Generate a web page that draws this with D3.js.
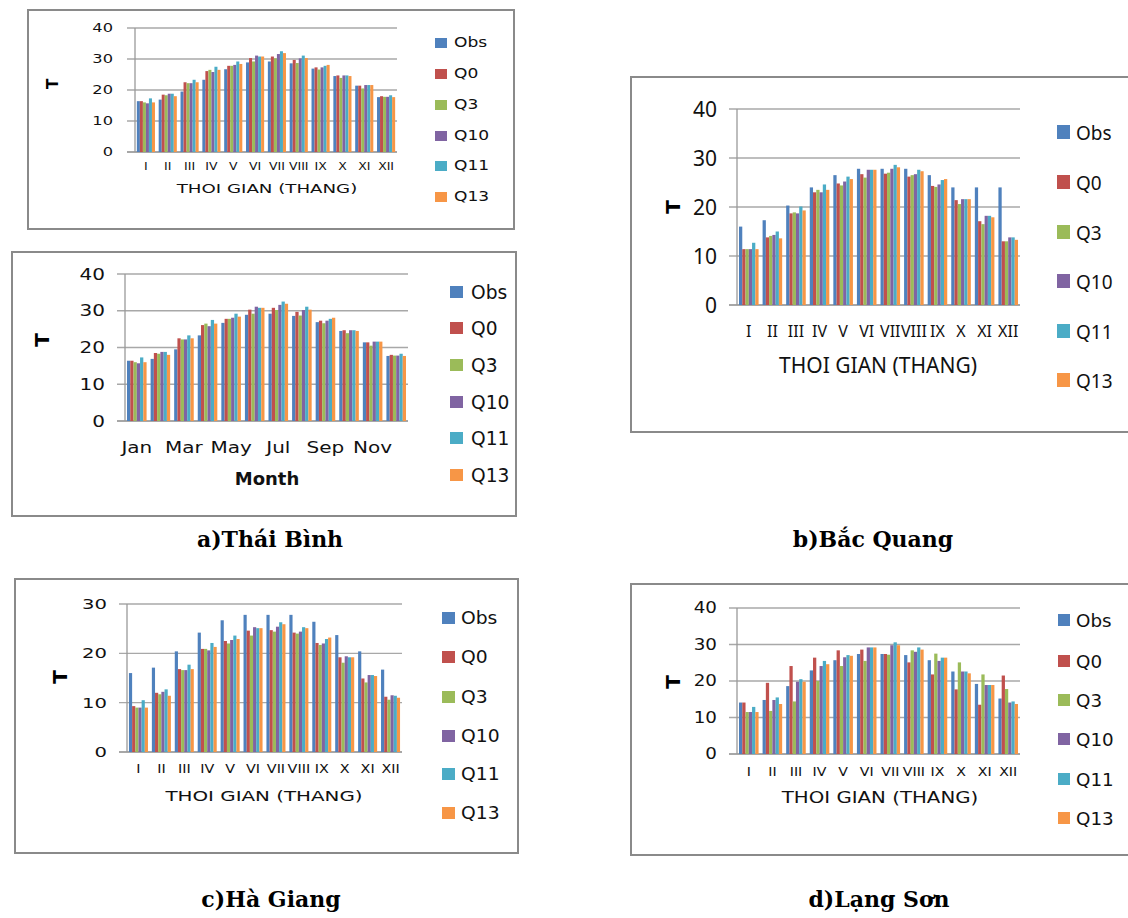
<!DOCTYPE html>
<html><head><meta charset="utf-8">
<script src="https://cdn.jsdelivr.net/npm/d3@7"></script>
<style>html,body{margin:0;padding:0;background:#fff}svg{display:block}</style>
</head><body>
<svg id="c" width="1128" height="918"></svg>
<script>
// ---------- DATA ----------
const monthsRoman = ["I","II","III","IV","V","VI","VII","VIII","IX","X","XI","XII"];
const monthsEn = ["Jan","Feb","Mar","Apr","May","Jun","Jul","Aug","Sep","Oct","Nov","Dec"];
const monthsEnShown = ["Jan","Mar","May","Jul","Sep","Nov"];
const seriesNames = ["Obs","Q0","Q3","Q10","Q11","Q13"];
const seriesColors = ["#4F81BD","#C0504D","#9BBB59","#8064A2","#4BACC6","#F79646"];
const ticks40 = [0,10,20,30,40];
const ticks30 = [0,10,20,30];

// Thai Binh
const thaiBinhObs = [16.4,16.9,19.5,23.3,26.7,28.9,29.2,28.6,26.9,24.5,21.4,17.7];
const thaiBinhQ0  = [16.4,18.5,22.5,26.1,27.8,30.3,30.8,29.7,27.3,24.7,21.4,18.0];
const thaiBinhQ3  = [16.0,18.3,22.2,26.5,27.8,29.2,30.2,28.7,26.6,23.9,20.5,17.8];
const thaiBinhQ10 = [15.7,18.8,22.2,25.8,28.1,31.1,31.6,30.2,27.3,24.7,21.6,17.8];
const thaiBinhQ11 = [17.3,18.8,23.3,27.5,29.2,30.8,32.5,31.1,27.8,24.7,21.6,18.3];
const thaiBinhQ13 = [16.0,18.0,22.5,26.5,28.4,30.8,31.9,30.3,28.1,24.5,21.6,17.7];
// Bac Quang
const bacQuangObs = [16.0,17.3,20.3,24.0,26.5,27.8,27.8,27.8,26.5,24.0,24.0,24.0];
const bacQuangQ0  = [11.4,13.8,18.7,23.0,24.8,26.7,26.8,26.2,24.3,21.4,17.1,13.0];
const bacQuangQ3  = [11.4,14.1,18.9,23.5,24.4,26.0,27.0,26.5,24.1,20.6,16.5,13.0];
const bacQuangQ10 = [11.4,14.3,18.7,23.0,25.2,27.6,27.8,26.7,24.6,21.6,18.2,13.8];
const bacQuangQ11 = [12.7,15.0,20.1,24.6,26.2,27.6,28.6,27.6,25.5,21.6,18.2,13.8];
const bacQuangQ13 = [11.4,13.6,19.3,23.5,25.7,27.6,28.1,27.3,25.7,21.6,17.9,13.3];
// Ha Giang
const haGiangObs = [16.0,17.1,20.4,24.2,26.7,27.8,27.8,27.8,26.4,23.7,20.4,16.7];
const haGiangQ0  = [9.3,12.0,16.8,20.9,22.5,24.6,24.7,24.2,22.1,19.2,14.9,11.2];
const haGiangQ3  = [9.0,11.7,16.6,20.9,22.0,23.6,24.4,24.0,21.7,18.1,14.1,10.6];
const haGiangQ10 = [9.0,12.2,16.6,20.6,22.7,25.3,25.4,24.4,22.0,19.4,15.6,11.5];
const haGiangQ11 = [10.5,12.7,17.7,22.1,23.6,25.1,26.3,25.3,22.9,19.2,15.6,11.4];
const haGiangQ13 = [9.0,11.4,16.8,21.3,22.9,25.1,25.9,25.1,23.2,19.2,15.4,11.0];
// Lang Son
const langSonObs = [14.1,14.8,18.6,22.9,25.7,27.4,27.4,27.1,25.7,22.6,19.2,15.2];
const langSonQ0  = [14.1,19.5,24.1,26.4,28.4,28.6,27.4,25.1,21.8,17.7,13.5,21.5];
const langSonQ3  = [11.5,11.8,14.4,20.0,24.1,25.5,27.2,28.4,27.5,25.1,21.8,17.8];
const langSonQ10 = [11.5,14.8,19.8,24.1,26.5,29.2,29.8,28.0,25.5,22.6,18.9,14.1];
const langSonQ11 = [12.9,15.5,20.5,25.5,27.1,29.2,30.6,29.2,26.4,22.6,18.9,14.4];
const langSonQ13 = [11.5,13.7,19.8,24.6,26.9,29.2,29.8,28.6,26.4,22.1,18.9,13.7];

const captions = ["a)Thái Bình","b)Bắc Quang","c)Hà Giang","d)Lạng Sơn"];

// ---------- LAYOUT ----------
const svg = d3.select("#c");
svg.append("rect").attr("width",1128).attr("height",918).attr("fill","#fff");

function txt(g, x, y, s, o) {
  const t = g.append("text")
    .attr("transform", `translate(${x},${y}) scale(${o.sx||1},${o.sy||1})` + (o.rot ? ` rotate(${o.rot})` : ""))
    .attr("font-family", o.family || "DejaVu Sans")
    .attr("font-size", o.size)
    .attr("font-weight", o.weight || "normal")
    .attr("text-anchor", o.anchor || "start")
    .attr("dominant-baseline", o.base || "central")
    .attr("fill", o.fill || "#000")
    .text(s);
  return t;
}

const panels = [
  { frame:[28,10,486,219], left:135, right:397, top:28, zero:152, max:40, ticks:ticks40,
    data:[thaiBinhObs,thaiBinhQ0,thaiBinhQ3,thaiBinhQ10,thaiBinhQ11,thaiBinhQ13],
    cats:monthsRoman, shown:monthsRoman, family:"DejaVu Sans",
    tickEnd:113, tickSize:12.5, tickSx:1.3,
    catY:167, catSize:10, catSx:1.25,
    title:"THOI GIAN (THANG)", titleX:267, titleY:188, titleSize:13, titleSx:1.4, titleWeight:"normal",
    tX:53, tY:84, tSize:15,
    legSqX:435, legTxtX:454, legY:[43,74,105,136,166,197], legSize:14, legSx:1.22, sq:[12,10] },
  { frame:[12,252,504,264], left:125, right:408, top:274, zero:421, max:40, ticks:ticks40,
    data:[thaiBinhObs,thaiBinhQ0,thaiBinhQ3,thaiBinhQ10,thaiBinhQ11,thaiBinhQ13],
    cats:monthsEn, shown:monthsEnShown, family:"DejaVu Sans",
    tickEnd:105, tickSize:16, tickSx:1.25,
    catY:447, catSize:16, catSx:1.25,
    title:"Month", titleX:267, titleY:478, titleSize:18, titleSx:1.0, titleWeight:"bold",
    tX:42, tY:340, tSize:20,
    legSqX:450, legTxtX:471, legY:[292,328,365,402,438,475], legSize:19, legSx:0.98, sq:[13,12] },
  { frame:[631,77,520,355], left:737, right:1020, top:109, zero:305, max:40, ticks:ticks40,
    data:[bacQuangObs,bacQuangQ0,bacQuangQ3,bacQuangQ10,bacQuangQ11,bacQuangQ13],
    cats:monthsRoman, shown:monthsRoman, family:"Noto Sans",
    tickEnd:717, tickSize:21, tickSx:1.0,
    catY:331, catSize:16, catSx:1.0,
    title:"THOI GIAN (THANG)", titleX:878, titleY:365, titleSize:21, titleSx:1.0, titleWeight:"normal",
    tX:673, tY:207, tSize:20,
    legSqX:1057, legTxtX:1076, legY:[132,182,232,281,331,380], legSize:20, legSx:0.95, sq:[13,14] },
  { frame:[15,579,503,274], left:127, right:402, top:604, zero:752, max:30, ticks:ticks30,
    data:[haGiangObs,haGiangQ0,haGiangQ3,haGiangQ10,haGiangQ11,haGiangQ13],
    cats:monthsRoman, shown:monthsRoman, family:"DejaVu Sans",
    tickEnd:107, tickSize:14, tickSx:1.4,
    catY:769, catSize:11.5, catSx:1.25,
    title:"THOI GIAN (THANG)", titleX:264, titleY:796, titleSize:14.5, titleSx:1.37, titleWeight:"normal",
    tX:60, tY:677, tSize:20,
    legSqX:442, legTxtX:461, legY:[618,657,697,736,774,813], legSize:17.5, legSx:1.07, sq:[13,12] },
  { frame:[631,584,520,271], left:737, right:1020, top:608, zero:754, max:40, ticks:ticks40,
    data:[langSonObs,langSonQ0,langSonQ3,langSonQ10,langSonQ11,langSonQ13],
    cats:monthsRoman, shown:monthsRoman, family:"DejaVu Sans",
    tickEnd:717, tickSize:15, tickSx:1.22,
    catY:772, catSize:12.3, catSx:1.15,
    title:"THOI GIAN (THANG)", titleX:880, titleY:798, titleSize:15, titleSx:1.32, titleWeight:"normal",
    tX:673, tY:682, tSize:20,
    legSqX:1058, legTxtX:1076, legY:[620,661,700,739,779,818], legSize:18.3, legSx:1.0, sq:[12,12] }
];

panels.forEach(p => {
  const g = svg.append("g");
  g.append("rect").attr("x",p.frame[0]).attr("y",p.frame[1]).attr("width",p.frame[2]).attr("height",p.frame[3])
    .attr("fill","#fff").attr("stroke","#8a8a8a").attr("stroke-width",2);

  const x0 = d3.scaleBand().domain(p.cats).range([p.left, p.right]).paddingInner(0.17).paddingOuter(0.085);
  const x1 = d3.scaleBand().domain(seriesNames).range([0, x0.bandwidth()]);
  const xc = d3.scaleBand().domain(p.cats).range([p.left, p.right]);
  const y = d3.scaleLinear().domain([0, p.max]).range([p.zero, p.top]);

  p.ticks.forEach(t => {
    g.append("line").attr("x1", p.left-8).attr("x2", p.right).attr("y1", y(t)).attr("y2", y(t))
      .attr("stroke", t===0 ? "#8a8a8a" : "#a8a8a8").attr("stroke-width",1.3);
    txt(g, p.tickEnd, y(t), String(t), {size:p.tickSize, sx:p.tickSx, anchor:"end", family:p.family, fill:"#111"});
  });
  g.append("line").attr("x1",p.left).attr("x2",p.left).attr("y1",p.top).attr("y2",p.zero)
    .attr("stroke","#9a9a9a").attr("stroke-width",1.3);

  seriesNames.forEach((s, si) => {
    g.append("g").selectAll("rect").data(p.data[si]).join("rect")
      .attr("x", (d,i) => x0(p.cats[i]) + x1(s))
      .attr("y", d => y(d))
      .attr("width", x1.bandwidth())
      .attr("height", d => y(0) - y(d))
      .attr("fill", seriesColors[si]);
  });

  p.shown.forEach(c => {
    txt(g, xc(c) + xc.bandwidth()/2, p.catY, c, {size:p.catSize, sx:p.catSx, anchor:"middle", family:p.family, fill:"#111"});
  });
  txt(g, p.titleX, p.titleY, p.title, {size:p.titleSize, sx:p.titleSx, anchor:"middle", family:p.family, weight:p.titleWeight, fill:"#111"});
  txt(g, p.tX, p.tY, "T", {size:p.tSize, anchor:"middle", family:"DejaVu Sans", weight:"bold", rot:-90});

  seriesNames.forEach((s, si) => {
    g.append("rect").attr("x", p.legSqX).attr("y", p.legY[si]-p.sq[1]/2).attr("width", p.sq[0]).attr("height", p.sq[1])
      .attr("fill", seriesColors[si]);
    txt(g, p.legTxtX, p.legY[si], s, {size:p.legSize, sx:p.legSx, family:p.family, fill:"#111"});
  });
});

const capPos = [[270,547],[873,547],[271,907],[879,907]];
captions.forEach((c,i) => {
  txt(svg, capPos[i][0], capPos[i][1], c, {size:22, sx:1.0, anchor:"middle", family:"DejaVu Serif", weight:"bold", base:"alphabetic"});
});
</script>
</body></html>
